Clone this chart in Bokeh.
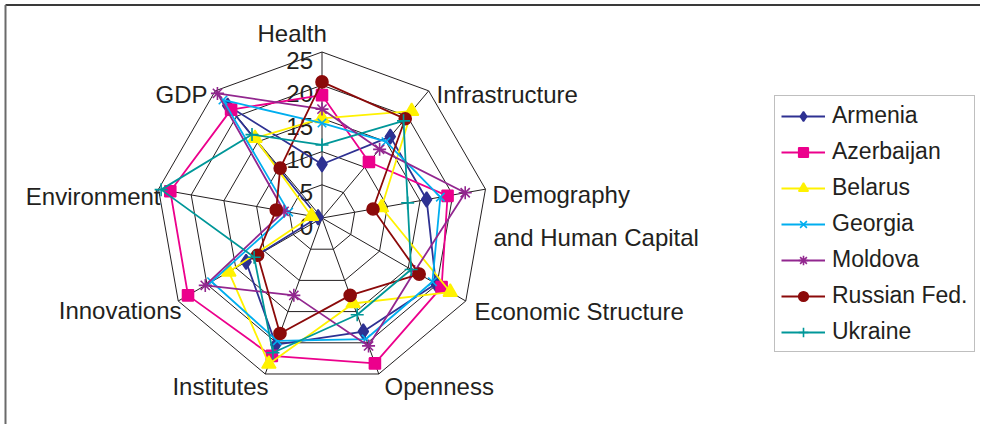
from bokeh.plotting import figure
from bokeh.models import Range1d, Legend, LegendItem, ColumnDataSource
from bokeh.core.properties import value
from bokeh.embed import file_html
from bokeh.resources import INLINE
import math

# ---------------- data ----------------
axes_names = ["Health", "Infrastructure", "Demography and Human Capital",
              "Economic Structure", "Openness", "Institutes", "Innovations",
              "Environment", "GDP"]
tick_values = [0, 5, 10, 15, 20, 25]
tick_labels = ["0", "5", "10", "15", "20", "25"]

countries = ["Armenia", "Azerbaijan", "Belarus", "Georgia", "Moldova",
             "Russian Fed.", "Ukraine"]
armenia = [8.1, 16.0, 16.0, 19.8, 18.2, 20.3, 13.2, 0.6, 22.1]
azerbaijan = [18.5, 11.0, 19.2, 20.8, 23.3, 22.1, 23.3, 23.2, 21.3]
belarus = [15.0, 21.0, 9.1, 22.3, 13.7, 23.4, 16.2, 1.6, 15.7]
georgia = [14.3, 15.0, 18.1, 19.2, 19.4, 19.7, 19.2, 5.1, 23.2]
moldova = [16.4, 13.5, 21.9, 16.1, 20.5, 12.4, 20.3, 5.8, 24.5]
russia = [20.5, 19.5, 7.8, 16.9, 12.4, 18.5, 11.2, 7.0, 9.8]
ukraine = [11.0, 19.1, 13.1, 15.5, 15.5, 21.6, 11.8, 24.6, 16.4]
series = [armenia, azerbaijan, belarus, georgia, moldova, russia, ukraine]

# ---------------- styles ----------------
colors = ["#2E3192", "#EC008C", "#FFF200", "#00AEEF", "#92278F", "#8B0A0A", "#009799"]
markers = ["diamond", "square", "triangle", "x", "asterisk", "circle", "cross"]
msizes = [15, 11, 14, 12, 13, 12, 13]
TXT = "#231F20"
FONT = "Liberation Sans"

# page-pixel coordinate system (page y grows downward)
W, H = 980, 424
CX, CY = 321.5, 217.5
R = 166.0
VMAX = 25.0
n = len(axes_names)
angles = [math.radians(90 - 40 * i) for i in range(n)]


def pt(v, a):
    r = R * v / VMAX
    return CX + r * math.cos(a), CY - r * math.sin(a)


p = figure(width=W, height=H, x_range=Range1d(0, W), y_range=Range1d(H, 0),
           output_backend="svg", toolbar_location=None, min_border=0,
           x_axis_type=None, y_axis_type=None)
p.grid.visible = False
p.outline_line_color = None
p.background_fill_color = "white"

# frame (top and left edges)
p.line([5, W], [4.5, 4.5], line_color="#3a3a3a", line_width=2)
p.line([5, 5], [4.5, H], line_color="#6a6a6a", line_width=2)

# web grid
for tv in tick_values[1:]:
    xs, ys = zip(*[pt(tv, a) for a in angles + angles[:1]])
    p.line(list(xs), list(ys), line_color=TXT, line_width=1)
for a in angles:
    x1, y1 = pt(VMAX, a)
    p.line([CX, x1], [CY, y1], line_color=TXT, line_width=1)

# tick labels
tsrc = ColumnDataSource(dict(x=[CX - 9] * len(tick_values),
                             y=[CY - R * v / VMAX + 8 for v in tick_values],
                             t=tick_labels))
p.text("x", "y", text="t", source=tsrc, text_align="right", text_baseline="middle",
       text_font=value(FONT), text_font_size="24px", text_color=TXT)

# category labels (anchor x, y, alignment)
label_layout = [
    ("Health", 257, 33, "left"),
    ("Infrastructure", 436, 94, "left"),
    ("Demography", 492, 194, "left"),
    ("and Human Capital", 493, 237, "left"),
    ("Economic Structure", 474, 311, "left"),
    ("Openness", 384, 386, "left"),
    ("Institutes", 268, 386, "right"),
    ("Innovations", 181, 310, "right"),
    ("Environment", 160, 196, "right"),
    ("GDP", 207, 94, "right"),
]
for txt, lx, ly, al in label_layout:
    p.text([lx], [ly], text=[txt], text_align=al, text_baseline="alphabetic",
           text_font=value(FONT), text_font_size="24px", text_color=TXT)

# series
items = []
for name, vals, c, m, s in zip(countries, series, colors, markers, msizes):
    pts = [pt(v, a) for v, a in zip(vals, angles)]
    xs = [q[0] for q in pts]
    ys = [q[1] for q in pts]
    lr = p.line(xs + xs[:1], ys + ys[:1], line_color=c, line_width=1.8)
    sr = p.scatter(xs, ys, marker=m, size=s, fill_color=c, line_color=c,
                   line_width=1.6)
    items.append(LegendItem(label=name, renderers=[lr, sr]))

legend = Legend(items=items, location=(774, H - 352), margin=0, padding=6, spacing=9,
                glyph_width=44, glyph_height=24, label_height=24, label_standoff=7,
                label_text_font=FONT, label_text_font_size="23px",
                label_text_color=TXT, border_line_color="#7f7f7f",
                border_line_width=1, background_fill_color="white",
                background_fill_alpha=1.0)
p.add_layout(legend)

open("out.html", "w").write(file_html(p, INLINE))
